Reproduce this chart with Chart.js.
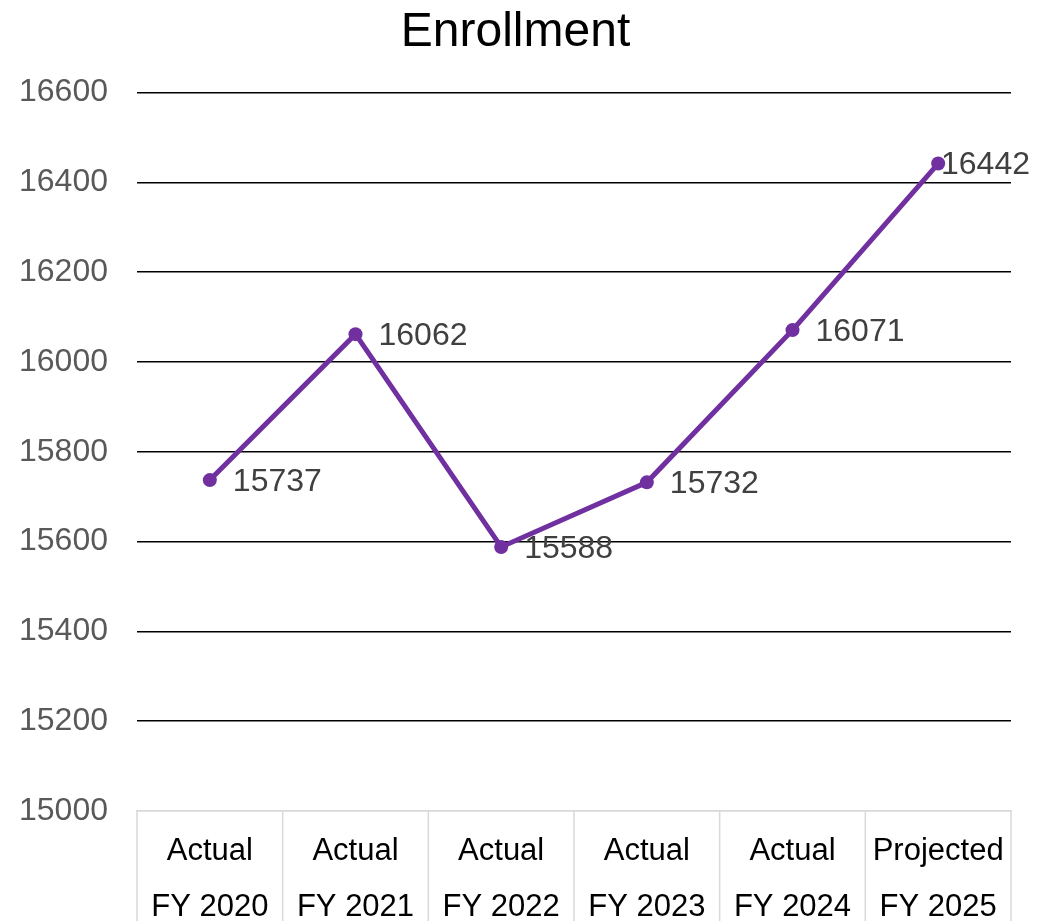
<!DOCTYPE html>
<html>
<head>
<meta charset="utf-8">
<title>Enrollment</title>
<script src="https://cdn.jsdelivr.net/npm/chart.js@4"></script>
<style>
  html, body { margin: 0; padding: 0; background: #fff; overflow: hidden; }
  .wrap { width: 1058px; height: 952px; }
</style>
</head>
<body>
<div class="wrap"><canvas id="enroll"></canvas></div>
<script>
const categories = [
  ['Actual', 'FY 2020'],
  ['Actual', 'FY 2021'],
  ['Actual', 'FY 2022'],
  ['Actual', 'FY 2023'],
  ['Actual', 'FY 2024'],
  ['Projected', 'FY 2025']
];
const enrollment = [15737, 16062, 15588, 15732, 16071, 16442];
const yTicks = { min: 15000, max: 16600, step: 200 };

const FONT = '"Liberation Sans", Arial, sans-serif';

// value labels to the right of each point, pulled back if they would run off the edge
const pointLabels = {
  id: 'pointLabels',
  afterDatasetsDraw(chart) {
    const ctx = chart.ctx;
    const meta = chart.getDatasetMeta(0);
    ctx.save();
    ctx.font = '32px ' + FONT;
    ctx.fillStyle = '#404040';
    ctx.textAlign = 'left';
    ctx.textBaseline = 'middle';
    meta.data.forEach((pt, i) => {
      const txt = String(chart.data.datasets[0].data[i]);
      const w = ctx.measureText(txt).width;
      const x = Math.min(pt.x + 23, chart.width - 28 - w);
      ctx.fillText(txt, x, pt.y + 2);
    });
    ctx.restore();
  }
};

// category separators run from the axis line down through the label table
const categoryDividers = {
  id: 'categoryDividers',
  afterDraw(chart) {
    const x = chart.scales.x;
    const ctx = chart.ctx;
    const half = (x.getPixelForValue(1) - x.getPixelForValue(0)) / 2;
    ctx.save();
    ctx.strokeStyle = '#d9d9d9';
    ctx.lineWidth = 1.5;
    ctx.beginPath();
    for (let i = 0; i <= categories.length; i++) {
      const px = x.getPixelForValue(i) - half;
      ctx.moveTo(px, x.top);
      ctx.lineTo(px, chart.height);
    }
    ctx.stroke();
    ctx.restore();
  }
};

const ctx = document.getElementById('enroll');
new Chart(ctx, {
  type: 'line',
  data: {
    labels: categories,
    datasets: [{
      label: 'Enrollment',
      data: enrollment,
      borderColor: '#7030A0',
      backgroundColor: '#7030A0',
      borderWidth: 5,
      pointRadius: 7,
      pointBackgroundColor: '#7030A0',
      pointBorderWidth: 0,
      tension: 0
    }]
  },
  options: {
    responsive: true,
    maintainAspectRatio: false,
    animation: false,
    layout: { padding: { left: 20, right: 47, top: 0, bottom: 5 } },
    plugins: {
      legend: { display: false },
      tooltip: { enabled: false },
      title: {
        display: true,
        text: 'Enrollment',
        color: '#000',
        font: { family: FONT, size: 48, weight: 'normal' },
        padding: { top: 4, bottom: 31 }
      }
    },
    scales: {
      x: {
        offset: true,
        border: { display: true, color: '#d9d9d9', width: 1.5 },
        grid: {
          offset: true,
          drawOnChartArea: false,
          drawTicks: false
        },
        ticks: {
          color: '#000',
          padding: 12,
          maxRotation: 0,
          autoSkip: false,
          font: { family: FONT, size: 31, lineHeight: '56px' }
        },
        afterFit: s => { s.paddingLeft = 0; s.paddingRight = 0; }
      },
      y: {
        min: yTicks.min,
        max: yTicks.max,
        border: { display: false },
        grid: {
          drawTicks: false,
          lineWidth: 1.5,
          color: c => c.tick && c.tick.value === yTicks.min ? '#d9d9d9' : '#000'
        },
        ticks: {
          stepSize: yTicks.step,
          color: '#595959',
          padding: 29,
          font: { family: FONT, size: 32 },
          callback: v => String(v)
        },
        afterFit: s => { s.width = 117; }
      }
    }
  },
  plugins: [pointLabels, categoryDividers]
});
</script>
</body>
</html>
